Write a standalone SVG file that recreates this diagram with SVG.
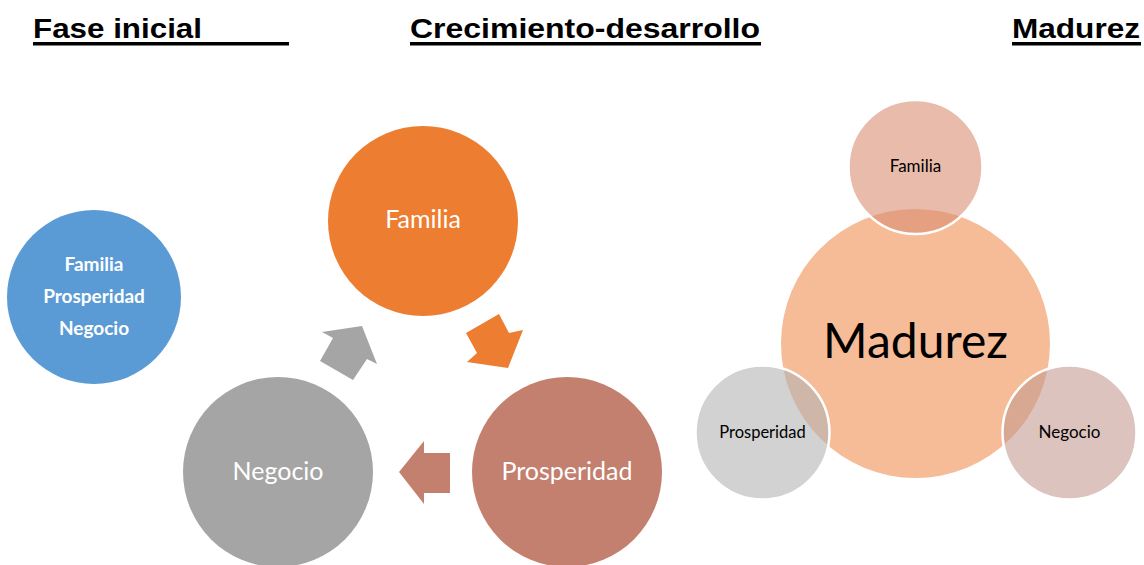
<svg xmlns="http://www.w3.org/2000/svg" width="1144" height="565" viewBox="0 0 1144 565">
<style>
.hdr{font-family:"Liberation Sans",Arial,sans-serif;font-weight:bold;font-size:28px;fill:#000}
.ul{fill:#000}
.t{font-family:Lato,"Open Sans",sans-serif;text-anchor:middle}
.w{fill:#fff}
.k{fill:#000}
.sm{stroke:#fff;stroke-width:2.5;fill-opacity:0.6}
</style>
<rect width="1144" height="565" fill="#fff"/>
<g id="headers">
<text class="hdr" x="33" y="38" textLength="169" lengthAdjust="spacingAndGlyphs">Fase inicial</text>
<rect class="ul" x="33" y="42" width="256" height="3.5"/>
<text class="hdr" x="410" y="38" textLength="350" lengthAdjust="spacingAndGlyphs">Crecimiento-desarrollo</text>
<rect class="ul" x="410" y="42" width="351" height="3.5"/>
<text class="hdr" x="1012" y="38" textLength="128" lengthAdjust="spacingAndGlyphs">Madurez</text>
<rect class="ul" x="1012" y="42" width="129" height="3.5"/>
</g>
<g id="fase-inicial">
<circle cx="94" cy="297" r="87" fill="#5b9bd5"/>
<text class="t w" x="94" y="271" font-size="19" font-weight="bold">Familia</text>
<text class="t w" x="94" y="303" font-size="19" font-weight="bold">Prosperidad</text>
<text class="t w" x="94" y="335" font-size="19" font-weight="bold">Negocio</text>
</g>
<g id="connectors">
<polygon points="466,333 499,314 509,333 523,330 508,368 467,362 477,353" fill="#ed7d31"/>
<polygon points="399,472 424,441 424,453 450,453 450,493 424,493 424,504" fill="#c4806f"/>
<polygon points="320,361 333,338 322,332 362,326 377,364 367,359 353,380" fill="#a5a5a5"/>
</g>
<g id="familia">
<circle cx="423" cy="221" r="95" fill="#ed7d31"/>
<text class="t w" x="423" y="228" font-size="25">Familia</text>
</g>
<g id="prosperidad">
<circle cx="567" cy="472" r="95" fill="#c4806f"/>
<text class="t w" x="567" y="480" font-size="25">Prosperidad</text>
</g>
<g id="negocio">
<circle cx="278" cy="472" r="95" fill="#a5a5a5"/>
<text class="t w" x="278" y="480" font-size="25">Negocio</text>
</g>
<g id="madurez">
<circle cx="915.5" cy="343.5" r="134.5" fill="#f5bc97"/>
<text class="t k" x="915.5" y="358" font-size="48">Madurez</text>
</g>
<g id="m-familia">
<circle class="sm" cx="915.5" cy="167" r="67" fill="#d98e73"/>
<text class="t k" x="915.5" y="172" font-size="17">Familia</text>
</g>
<g id="m-prosperidad">
<circle class="sm" cx="762.5" cy="432.5" r="67" fill="#b4b4b4"/>
<text class="t k" x="762.5" y="438" font-size="16.5">Prosperidad</text>
</g>
<g id="m-negocio">
<circle class="sm" cx="1069.5" cy="432.5" r="67" fill="#c59b91"/>
<text class="t k" x="1069.5" y="438" font-size="17">Negocio</text>
</g>
</svg>
